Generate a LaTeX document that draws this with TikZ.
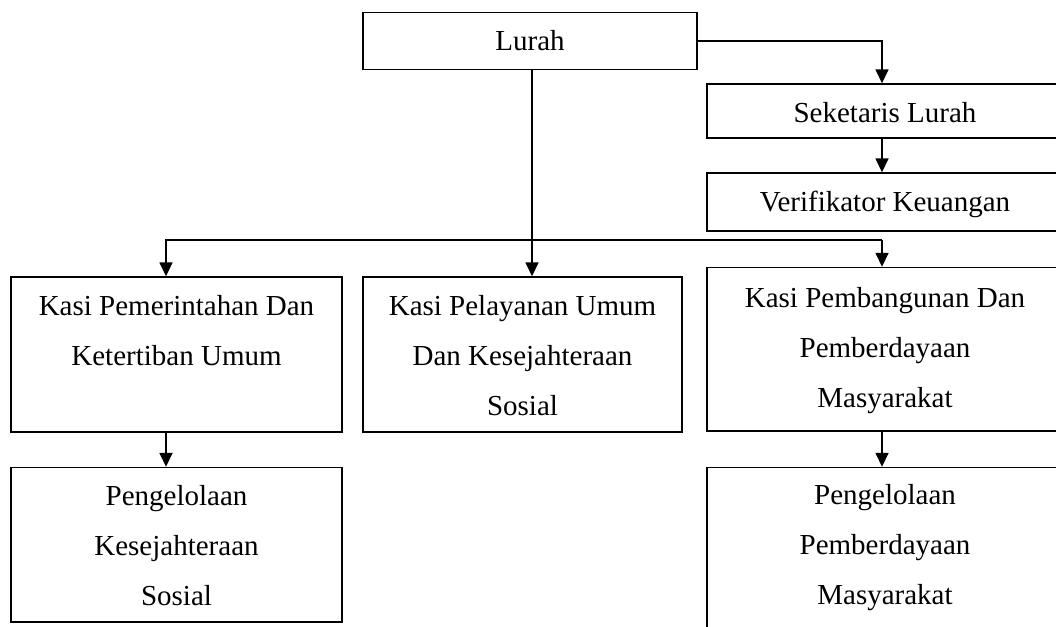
\documentclass[tikz,border=0pt]{standalone}
\usepackage{fontspec}
\setmainfont{Liberation Serif}
\usetikzlibrary{arrows.meta}
\begin{document}
\begin{tikzpicture}[x=1pt,y=-1pt,
  box/.style={draw, line width=1.4pt, rectangle, inner sep=0pt},
  conn/.style={line width=1.6pt, line join=miter},
  arr/.style={conn, -{Triangle[width=13pt,length=14pt]}},
  txt/.style={anchor=base, inner sep=0pt, font=\fontsize{29}{50}\selectfont}]
\useasboundingbox (0,0) rectangle (1056,626);
\clip (0,0) rectangle (1056,626);
% boxes
\node[box, minimum width=334pt, minimum height=57pt] (lurah) at (530,41) {};
\node[box, minimum width=356pt, minimum height=54pt] (sek) at (885,111) {};
\node[box, minimum width=356pt, minimum height=58pt] (ver) at (885,202) {};
\node[box, minimum width=331pt, minimum height=155pt] (kpm) at (176.5,354.5) {};
\node[box, minimum width=319pt, minimum height=155pt] (kpl) at (522.5,354.5) {};
\node[box, minimum width=356pt, minimum height=163.5pt] (kpb) at (885,349.25) {};
\node[box, minimum width=331pt, minimum height=154.5pt] (pks) at (176.5,544.75) {};
\node[box, minimum width=356pt, minimum height=182.5pt] (ppm) at (885,558.75) {};
% texts
\node[txt] (tlurah) at (530,50) {Lurah};
\node[txt] (tsek) at (885,122) {Seketaris Lurah};
\node[txt] (tver) at (885,211) {Verifikator Keuangan};
\node[txt] (tkpm) at (176.5,315) {\begin{tabular}[t]{@{}c@{}}Kasi Pemerintahan Dan\\Ketertiban Umum\end{tabular}};
\node[txt] (tkpl) at (522.5,315) {\begin{tabular}[t]{@{}c@{}}Kasi Pelayanan Umum\\Dan Kesejahteraan\\Sosial\end{tabular}};
\node[txt] (tkpb) at (885,307) {\begin{tabular}[t]{@{}c@{}}Kasi Pembangunan Dan\\Pemberdayaan\\Masyarakat\end{tabular}};
\node[txt] (tpks) at (176.5,505) {\begin{tabular}[t]{@{}c@{}}Pengelolaan\\Kesejahteraan\\Sosial\end{tabular}};
\node[txt] (tppm) at (885,504) {\begin{tabular}[t]{@{}c@{}}Pengelolaan\\Pemberdayaan\\Masyarakat\end{tabular}};
% connector points
\coordinate (jR) at (882,41);
\coordinate (busL) at (166,240);
\coordinate (busM) at (532,240);
\coordinate (busR) at (882,240);
% connectors
\draw[arr] (lurah.east) -- (jR) -- (jR |- sek.north);
\draw[arr] (jR |- sek.south) -- (jR |- ver.north);
\draw[arr] (busM |- lurah.south) -- (busM |- kpl.north);
\draw[arr] (busR) -- (busL) -- (busL |- kpm.north);
\draw[arr] (busR) -- (busR |- kpb.north);
\draw[arr] (busL |- kpm.south) -- (busL |- pks.north);
\draw[arr] (busR |- kpb.south) -- (busR |- ppm.north);
\end{tikzpicture}
\end{document}
